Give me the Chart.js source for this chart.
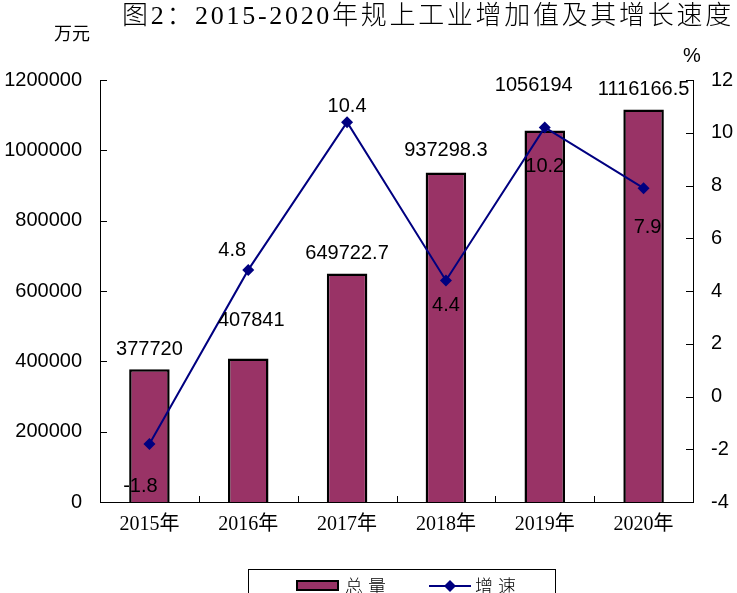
<!DOCTYPE html>
<html>
<head>
<meta charset="utf-8">
<script src="https://cdn.jsdelivr.net/npm/chart.js@4.4.1/dist/chart.umd.min.js"></script>
<style>
  body { margin: 0; background: #fff; }
</style>
</head>
<body>
<canvas id="chartCanvas" width="737" height="593"></canvas>
<script>
// data
var years = ['2015年', '2016年', '2017年', '2018年', '2019年', '2020年'];
var totals = [377720, 407841, 649722.7, 937298.3, 1056194, 1116166.5];
var growth = [-1.8, 4.8, 10.4, 4.4, 10.2, 7.9];
var totalTicks = [0, 200000, 400000, 600000, 800000, 1000000, 1200000];
var growthTicks = [-4, -2, 0, 2, 4, 6, 8, 10, 12];

var numFont = '"Liberation Sans", Arial, sans-serif';
var cjkFont = '"Liberation Serif", "Noto Sans CJK SC", serif';

// label nudges so the texts sit like in the original
var barLabelShift = [[0, -20], [3, -38], [0, -20], [0, -22], [-11, -45], [0, -20]];
var lineLabelShift = [[-9, 43], [-16, -19], [0, -16], [0, 25], [0, 39], [4, 39]];

var decorPlugin = {
    id: 'decor',
    afterDraw: function (chart) {
        var ctx = chart.ctx;
        var area = chart.chartArea;
        var yl = chart.scales.y;
        var yr = chart.scales.y1;
        ctx.save();

        // inward tick marks
        ctx.strokeStyle = '#000';
        ctx.lineWidth = 1;
        ctx.beginPath();
        totalTicks.forEach(function (v) {
            var py = Math.round(yl.getPixelForValue(v)) + 0.5;
            ctx.moveTo(area.left, py);
            ctx.lineTo(area.left + 7, py);
        });
        growthTicks.forEach(function (v) {
            var py = Math.round(yr.getPixelForValue(v)) + 0.5;
            ctx.moveTo(area.right, py);
            ctx.lineTo(area.right - 7, py);
        });
        var step = (area.right - area.left) / years.length;
        for (var i = 1; i < years.length; i++) {
            var px = Math.round(area.left + i * step) + 0.5;
            ctx.moveTo(px, area.bottom);
            ctx.lineTo(px, area.bottom - 6);
        }
        ctx.stroke();

        // value labels
        ctx.fillStyle = '#000';
        ctx.font = '20px ' + numFont;
        ctx.textAlign = 'center';
        ctx.textBaseline = 'middle';
        chart.getDatasetMeta(0).data.forEach(function (el, i) {
            var s = barLabelShift[i];
            ctx.fillText(String(totals[i]), el.x + s[0], el.y + s[1]);
        });
        chart.getDatasetMeta(1).data.forEach(function (el, i) {
            var s = lineLabelShift[i];
            ctx.fillText(String(growth[i]), el.x + s[0], el.y + s[1]);
        });

        // title and units
        ctx.textAlign = 'left';
        ctx.font = '300 26px ' + cjkFont;
        ctx.letterSpacing = '2.7px';
        ctx.fillText('图2：2015-2020年规上工业增加值及其增长速度', 122, 17);
        ctx.letterSpacing = '0px';
        ctx.font = '18px "Noto Sans CJK SC", sans-serif';
        ctx.fillText('万元', 54, 33);
        ctx.textAlign = 'center';
        ctx.font = '20px ' + numFont;
        ctx.fillText('%', 692, 56);

        // legend
        ctx.lineWidth = 1;
        ctx.strokeRect(248.5, 569.5, 307, 40);
        var bar = chart.data.datasets[0];
        var line = chart.data.datasets[1];
        ctx.fillStyle = bar.backgroundColor;
        ctx.fillRect(297, 581, 41, 9);
        ctx.lineWidth = 2;
        ctx.strokeRect(297, 581, 41, 9);
        ctx.strokeStyle = line.borderColor;
        ctx.beginPath();
        ctx.moveTo(429, 586);
        ctx.lineTo(471, 586);
        ctx.stroke();
        ctx.fillStyle = line.borderColor;
        ctx.beginPath();
        ctx.moveTo(450, 580);
        ctx.lineTo(456, 586);
        ctx.lineTo(450, 592);
        ctx.lineTo(444, 586);
        ctx.closePath();
        ctx.fill();
        ctx.fillStyle = '#000';
        ctx.textAlign = 'left';
        ctx.font = '300 18px "Noto Sans CJK SC", sans-serif';
        ctx.letterSpacing = '5px';
        ctx.fillText(bar.label, 345, 586);
        ctx.fillText(line.label, 475, 586);
        ctx.restore();
    }
};

var ctx = document.getElementById('chartCanvas').getContext('2d');

var chart = new Chart(ctx, {
    type: 'bar',
    data: {
        labels: years,
        datasets: [
            {
                type: 'bar',
                label: '总量',
                data: totals,
                yAxisID: 'y',
                backgroundColor: '#993366',
                borderColor: '#000000',
                borderWidth: 2.5,
                categoryPercentage: 1,
                barPercentage: 0.41,
                order: 2
            },
            {
                type: 'line',
                label: '增速',
                data: growth,
                yAxisID: 'y1',
                borderColor: '#000080',
                backgroundColor: '#000080',
                borderWidth: 2,
                pointStyle: 'rectRot',
                pointRadius: 6,
                pointBorderWidth: 0,
                tension: 0,
                order: 1
            }
        ]
    },
    options: {
        responsive: false,
        animation: false,
        layout: { padding: { top: 80, right: 0, bottom: 0, left: 0 } },
        plugins: {
            legend: { display: false },
            tooltip: { enabled: false }
        },
        scales: {
            x: {
                grid: { display: false, drawTicks: false },
                border: { color: '#000', width: 1 },
                ticks: {
                    color: '#000',
                    padding: 11,
                    font: { family: cjkFont, size: 20 }
                },
                afterFit: function (s) { s.height = 91; }
            },
            y: {
                position: 'left',
                min: 0,
                max: 1200000,
                grid: { display: false, drawTicks: false },
                border: { color: '#000', width: 1 },
                ticks: {
                    stepSize: 200000,
                    color: '#000',
                    padding: 18,
                    font: { family: numFont, size: 20 },
                    callback: function (v) { return String(v); }
                },
                afterFit: function (s) { s.width = 100; }
            },
            y1: {
                position: 'right',
                min: -4,
                max: 12,
                grid: { display: false, drawTicks: false },
                border: { color: '#000', width: 1 },
                ticks: {
                    stepSize: 2,
                    color: '#000',
                    padding: 18,
                    font: { family: numFont, size: 20 },
                    callback: function (v) { return String(v); }
                },
                afterFit: function (s) { s.width = 44; }
            }
        }
    },
    plugins: [decorPlugin]
});
</script>
</body>
</html>
